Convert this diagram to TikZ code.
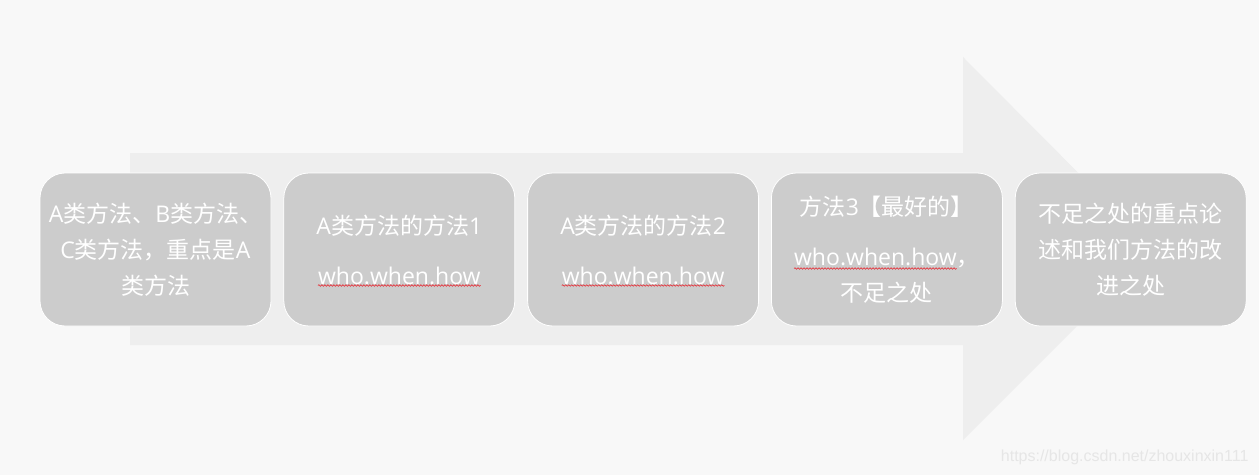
\documentclass[tikz,border=0pt]{standalone}
\usepackage{fontspec}
\setmainfont{Open Sans}
\newfontfamily\cjk{Noto Sans CJK SC}
\newfontfamily\wmfont{Liberation Sans}
\usepackage{tikz}
\usetikzlibrary{positioning, calc, decorations.pathmorphing}

\definecolor{bggray}{HTML}{F8F8F8}
\definecolor{arrowgray}{HTML}{EEEEEE}
\definecolor{boxgray}{HTML}{CCCCCC}
\definecolor{wmgray}{HTML}{E6E6E6}
\definecolor{spellred}{HTML}{E8202A}

\newcommand{\zh}[1]{{\cjk #1}}
\newlength{\wavewd}

\begin{document}
\settowidth{\wavewd}{\fontsize{23}{36}\selectfont who.when.how}
\begin{tikzpicture}[x=1pt, y=1pt,
  stagebox/.style={draw=white, line width=0.8pt, fill=boxgray, rounded corners=25pt,
    minimum width=231pt, minimum height=153pt, inner sep=0pt, text=white,
    align=center, font=\fontsize{23}{36}\selectfont},
  spellwave/.style={draw=spellred, line width=0.6pt,
    decorate, decoration={snake, segment length=3pt, amplitude=0.8pt}},
  node distance=12pt]
\fill[bggray] (0,0) rectangle (1259,475);
\useasboundingbox (0,0) rectangle (1259,475);

% big arrow behind the stages
\fill[arrowgray] (130,322) -- (963,322) -- (963,418) -- (1154,226)
  -- (963,35) -- (963,130) -- (130,130) -- cycle;

\node[stagebox] (s1) at (155.5,225.5) {A\zh{类方法、}B\zh{类方法、}\\C\zh{类方法，重点是}A\\\zh{类方法}};
\node[stagebox, right=of s1] (s2) {A\zh{类方法的方法}1\\[14pt]who.when.how};
\node[stagebox, right=of s2] (s3) {A\zh{类方法的方法}2\\[14pt]who.when.how};
\node[stagebox, right=of s3] (s4) {\zh{方法}3\zh{【最好的】}\\[14pt]who.when.how\zh{，}\\\zh{不足之处}};
\node[stagebox, right=of s4] (s5) {\zh{不足之处的重点论}\\\zh{述和我们方法的改}\\\zh{进之处}};

% spell-check underlines
\draw[spellwave] ($(s2.center)+(-0.5\wavewd,-36pt)$) -- ++(\wavewd,0);
\draw[spellwave] ($(s3.center)+(-0.5\wavewd,-36pt)$) -- ++(\wavewd,0);
\draw[spellwave] ($(s4.center)+(-0.5\wavewd-11.5pt,-19pt)$) -- ++(\wavewd,0);

\node[font=\wmfont\fontsize{16}{16}\selectfont, text=wmgray, anchor=east] (wm) at (1252,18) {https://blog.csdn.net/zhouxinxin111};
\end{tikzpicture}
\end{document}
